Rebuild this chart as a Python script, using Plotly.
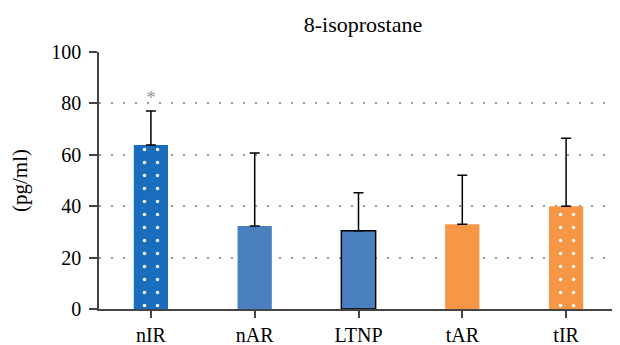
import plotly.graph_objects as go

categories = ["nIR", "nAR", "LTNP", "tAR", "tIR"]
means = [63.8, 32.3, 30.4, 33.0, 40.0]
errors_up = [13.2, 28.4, 14.8, 19.0, 26.4]
colors = ["#1a6dbd", "#4a80c0", "#4a80c0", "#f79646", "#f79646"]
patterns = [".", "", "", "", "."]
outline = ["rgba(0,0,0,0)", "rgba(0,0,0,0)", "#000000", "rgba(0,0,0,0)", "rgba(0,0,0,0)"]
outline_w = [0, 0, 1.5, 0, 0]
sig_label = ["*", "", "", "", ""]
sig_y = [81.5, None, None, None, None]
y_ticks = [0, 20, 40, 60, 80, 100]

FONT = "Liberation Serif, serif"

fig = go.Figure()
for i, cat in enumerate(categories):
    fig.add_trace(go.Bar(
        x=[cat], y=[means[i]], width=0.33,
        marker=dict(color=colors[i],
                    line=dict(color=outline[i], width=outline_w[i]),
                    pattern=dict(shape=patterns[i], fgcolor="#ffffff", fgopacity=1,
                                 size=13, solidity=0.055, fillmode="overlay")),
        error_y=dict(type="data", symmetric=False, array=[errors_up[i]],
                     arrayminus=[0], color="black", thickness=1.5, width=5),
        showlegend=False,
    ))
fig.add_trace(go.Scatter(
    x=categories, y=sig_y, mode="text", text=sig_label,
    textfont=dict(family=FONT, size=19, color="#999999"),
    showlegend=False, hoverinfo="skip",
))

fig.update_layout(
    width=612, height=337, barmode="overlay",
    margin=dict(l=91, r=2, t=44, b=36),
    plot_bgcolor="white", paper_bgcolor="white",
    font=dict(family=FONT, size=20, color="black"),
    title=dict(text="8-isoprostane", x=0.58, xanchor="center", y=0.952, yanchor="middle",
               font=dict(family=FONT, size=22, color="black")),
)
fig.update_yaxes(
    range=[0, 100], tickvals=y_ticks, ticks="outside", ticklen=8, tickwidth=1.5,
    tickcolor="#444", showline=True, linecolor="#444", linewidth=1.5,
    showgrid=True, gridcolor="#999999", gridwidth=1.5, griddash="2px,10px",
    zeroline=False, ticklabelstandoff=4, automargin=False,
    title=dict(text="(pg/ml)", standoff=22, font=dict(family=FONT, size=21)),
    tickfont=dict(family=FONT, size=20),
)
fig.update_xaxes(
    range=[-0.5, 4.5], ticks="outside", ticklen=7, tickwidth=1.5, tickcolor="#444",
    showline=True, linecolor="#444", linewidth=1.5, showgrid=False, automargin=False,
    categoryorder="array", categoryarray=categories,
    tickfont=dict(family=FONT, size=20),
)

fig.write_html("out.html")
